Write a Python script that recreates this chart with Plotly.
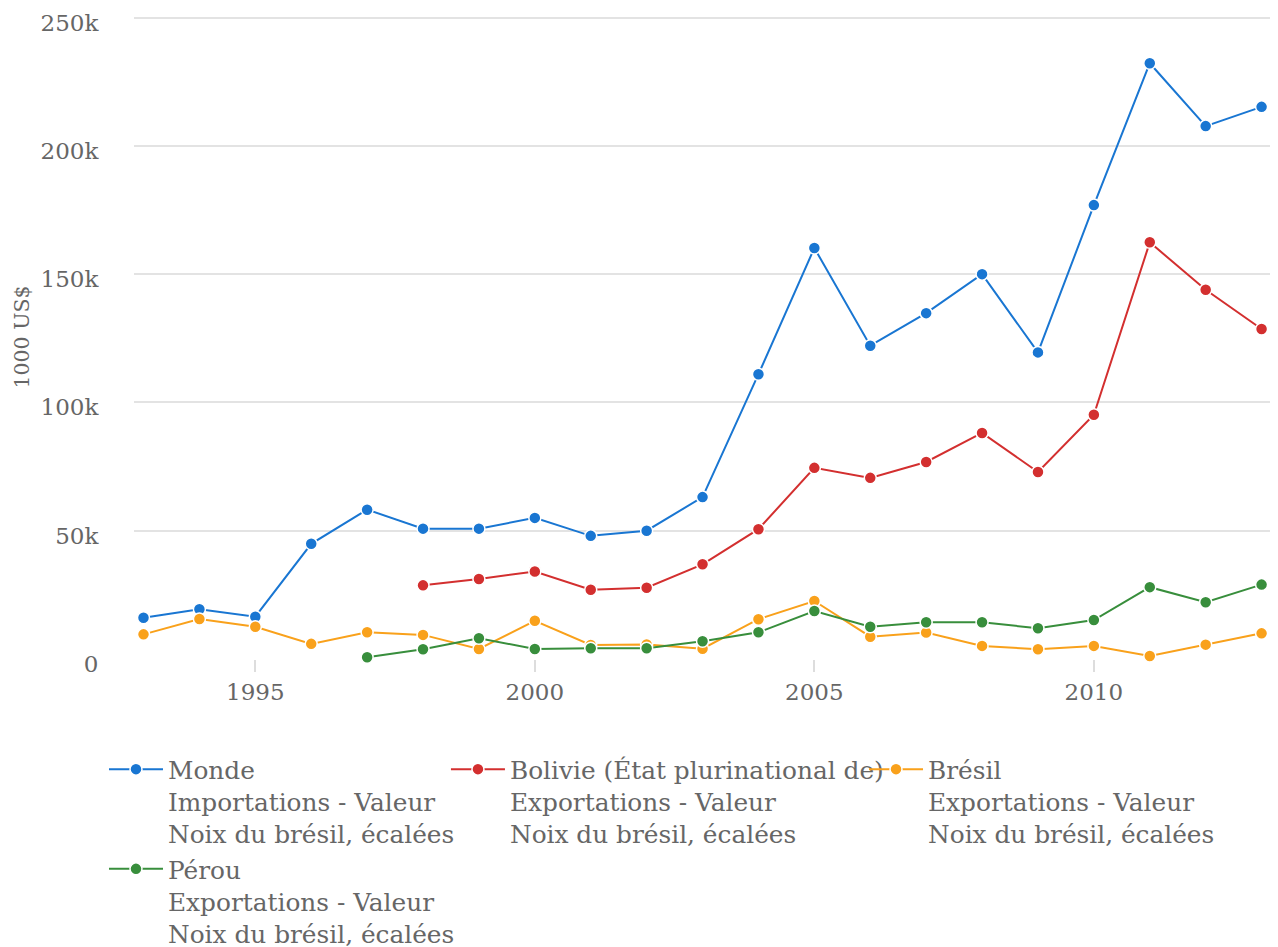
import plotly.graph_objects as go

years = list(range(1993, 2014))

monde = [16.1, 19.4, 16.5, 44.9, 58.2, 50.8, 50.8, 55.0, 48.0, 50.0, 63.1, 111.0, 160.2, 122.1,
         134.8, 150.0, 119.5, 176.9, 232.2, 207.7, 215.2]
bolivie = [None, None, None, None, None, 28.7, 31.2, 34.1, 27.0, 27.8, 36.9, 50.6, 74.5, 70.6,
           76.8, 88.1, 72.9, 95.2, 162.4, 143.9, 128.6]
bresil = [9.6, 15.6, 12.6, 5.9, 10.4, 9.4, 3.9, 14.9, 5.5, 5.7, 4.0, 15.5, 22.6, 8.7,
          10.3, 5.1, 3.8, 5.1, 1.2, 5.6, 10.0]
perou = [None, None, None, None, 0.7, 3.8, 8.1, 3.9, 4.2, 4.2, 6.9, 10.4, 18.7, 12.6,
         14.3, 14.3, 12.0, 15.2, 28.0, 22.1, 29.0]

names = [
    "Monde<br>Importations - Valeur<br>Noix du brésil, écalées",
    "Bolivie (État plurinational de)<br>Exportations - Valeur<br>Noix du brésil, écalées",
    "Brésil<br>Exportations - Valeur<br>Noix du brésil, écalées",
    "Pérou<br>Exportations - Valeur<br>Noix du brésil, écalées",
]
series = [monde, bolivie, bresil, perou]
colors = ["#1976d2", "#d32f2f", "#f9a11b", "#388e3c"]
legends = ["legend", "legend2", "legend3", "legend"]

FONT = "DejaVu Serif"
TXT = "#666666"

fig = go.Figure()
for name, vals, col, lg in zip(names, series, colors, legends):
    fig.add_trace(go.Scatter(
        x=years,
        y=[v * 1000 if v is not None else None for v in vals],
        name=name,
        mode="lines+markers",
        line=dict(color=col, width=2),
        marker=dict(color=col, size=12, line=dict(color="white", width=1.5)),
        legend=lg,
        cliponaxis=False,
    ))

LEG_Y = -0.1359
legend_common = dict(
    orientation="v", yanchor="top", xanchor="left", valign="top",
    font=dict(family=FONT, size=24.8, color=TXT), bgcolor="rgba(0,0,0,0)",
    itemwidth=54, tracegroupgap=0,
)
fig.update_layout(
    width=1270, height=960,
    margin=dict(l=126, r=3, t=7, b=309),
    paper_bgcolor="white", plot_bgcolor="white",
    font=dict(family=FONT, size=23, color=TXT),
    showlegend=True,
    legend=dict(x=-0.0263, y=LEG_Y, **legend_common),
    legend2=dict(x=0.2734, y=LEG_Y, **legend_common),
    legend3=dict(x=0.6398, y=LEG_Y, **legend_common),
    xaxis=dict(
        range=[1992.83, 2013.24], tickvals=[1995, 2000, 2005, 2010],
        ticks="outside", ticklen=12, tickcolor="#dddddd", tickwidth=1.5,
        showgrid=False, zeroline=False, showline=False, automargin=False,
        tickfont=dict(family=FONT, size=23, color=TXT),
    ),
    yaxis=dict(
        range=[0, 251000], tickvals=[0, 50000, 100000, 150000, 200000, 250000],
        ticktext=["0", "50k", "100k", "150k", "200k", "250k"],
        ticklabeloverflow="allow", automargin=False, ticklabelshift=5,
        gridcolor="#e3e3e3", gridwidth=1.5, zeroline=False, showline=False,
        ticks="outside", ticklen=30, tickcolor="rgba(0,0,0,0)",
        tickfont=dict(family=FONT, size=23, color=TXT),
        title=dict(text="1000 US$", font=dict(family=FONT, size=20.5, color=TXT), standoff=5),
    ),
)

fig.write_html("out.html")
